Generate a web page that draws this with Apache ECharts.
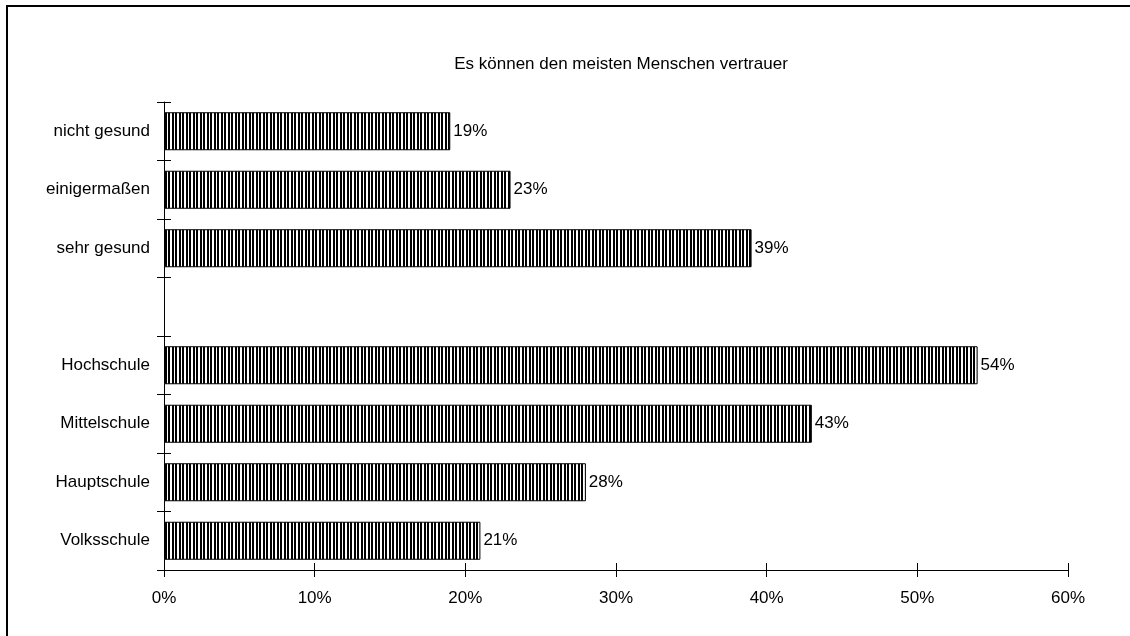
<!DOCTYPE html>
<html>
<head>
<meta charset="utf-8">
<script src="https://cdn.jsdelivr.net/npm/echarts@6/dist/echarts.min.js"></script>
<style>
html,body{margin:0;padding:0;background:#fff;}
#c{width:1130px;height:636px;}
</style>
</head>
<body>
<div id="c"></div>
<script>
const titleText = 'Es können den meisten Menschen vertrauer';
const categories = ['Volksschule', 'Hauptschule', 'Mittelschule', 'Hochschule', '', 'sehr gesund', 'einigermaßen', 'nicht gesund'];
const values = [21, 28, 43, 54, null, 39, 23, 19];
const xTicks = [0, 10, 20, 30, 40, 50, 60];

const FONT = "'Liberation Sans', Arial, sans-serif";
const FS = 17;

// vertical stripe pattern
const pc = document.createElement('canvas');
pc.width = 7; pc.height = 10;
const pctx = pc.getContext('2d');
pctx.fillStyle = '#fff';
pctx.fillRect(0, 0, 7, 10);
pctx.fillStyle = '#000';
pctx.fillRect(0, 0, 2, 10);
pctx.fillRect(4, 0, 2, 10);

const chart = echarts.init(document.getElementById('c'), null, {renderer: 'canvas'});
const xMin = xTicks[0], xMax = xTicks[xTicks.length - 1], xInt = xTicks[1] - xTicks[0];
const axisLine = {show: true, lineStyle: {color: '#000', width: 1}};

chart.setOption({
  animation: false,
  backgroundColor: '#fff',
  title: {
    text: titleText,
    left: 616,
    top: 51,
    textAlign: 'center',
    textStyle: {fontFamily: FONT, fontSize: FS, fontWeight: 'normal', color: '#000'}
  },
  graphic: [{
    type: 'polyline',
    shape: {points: [[7, 636], [7, 6], [1130, 6]]},
    style: {stroke: '#000', lineWidth: 2, fill: null},
    silent: true
  }],
  grid: {left: 164, right: 62, top: 102, bottom: 66, containLabel: false},
  xAxis: [{
    type: 'value', min: xMin, max: xMax, interval: xInt,
    axisLine: axisLine,
    axisTick: {show: true, inside: false, length: 7, lineStyle: {color: '#000'}},
    axisLabel: {formatter: '{value}%', fontFamily: FONT, fontSize: FS, color: '#000', margin: 20},
    splitLine: {show: false}
  }, {
    type: 'value', min: xMin, max: xMax, interval: xInt, position: 'bottom',
    axisLine: {show: false},
    axisTick: {show: true, inside: true, length: 7, lineStyle: {color: '#000'}},
    axisLabel: {show: false},
    splitLine: {show: false}
  }],
  yAxis: [{
    type: 'category', data: categories,
    axisLine: axisLine,
    axisTick: {show: true, inside: false, length: 7, lineStyle: {color: '#000'}},
    axisLabel: {fontFamily: FONT, fontSize: FS, color: '#000', margin: 14},
    splitLine: {show: false}
  }, {
    type: 'category', data: categories, position: 'left',
    axisLine: {show: false},
    axisTick: {show: true, inside: true, length: 7, lineStyle: {color: '#000'}},
    axisLabel: {show: false},
    splitLine: {show: false}
  }],
  series: [{
    type: 'bar',
    xAxisIndex: 0,
    yAxisIndex: 0,
    data: values,
    barCategoryGap: '35%',
    itemStyle: {
      color: {image: pc, repeat: 'repeat'},
      borderColor: '#000',
      borderWidth: 1
    },
    label: {
      show: true, position: 'right', distance: 3,
      formatter: p => p.value == null ? '' : p.value + '%',
      fontFamily: FONT, fontSize: FS, color: '#000'
    }
  }]
});
</script>
</body>
</html>
